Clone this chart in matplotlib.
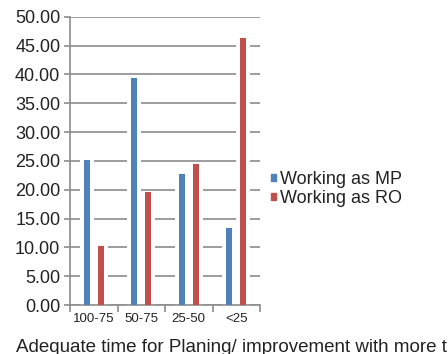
import matplotlib
matplotlib.use("Agg")
import matplotlib.pyplot as plt
from matplotlib.patches import Rectangle
import numpy as np

categories = ["100-75", "50-75", "25-50", "<25"]
mp_values = [25.1, 39.3, 22.8, 13.4]
ro_values = [10.2, 19.6, 24.5, 46.3]
series_labels = ["Working as MP", "Working as RO"]
y_ticks = [0, 5, 10, 15, 20, 25, 30, 35, 40, 45, 50]

blue = "#4F81BD"
red = "#C0504D"
grey = "#8C8C8C"
text_col = "#222222"

plt.rcParams["font.family"] = ["Liberation Sans", "DejaVu Sans"]

fig = plt.figure(figsize=(4.48, 3.54), dpi=100)
ax = fig.add_axes([70 / 448, 1 - 305 / 354, 190 / 448, 288.3 / 354])

x = np.arange(len(categories)) + 0.5
offset = 0.145
bar_w = 0.125
halo_w = 0.30

# white halo behind each bar interrupts the gridlines
for xs, vals in [(x - offset, mp_values), (x + offset, ro_values)]:
    ax.bar(xs, vals, width=halo_w, color="white", zorder=2)
for xs, vals, col in [(x - offset, mp_values, blue), (x + offset, ro_values, red)]:
    ax.bar(xs, vals, width=bar_w, color=col, zorder=3)

ax.set_xlim(0, 4)
ax.set_ylim(0, 50)
ax.set_yticks(y_ticks)
ax.set_yticklabels([f"{v:.2f}" for v in y_ticks], fontsize=13, color=text_col)
ax.yaxis.grid(True, color=grey, linewidth=1.2, zorder=1)
ax.set_axisbelow(True)

ax.set_xticks([0, 1, 2, 3, 4])
ax.set_xticklabels([])
ax.set_xticks(x, minor=True)
ax.set_xticklabels(categories, minor=True, fontsize=9.5, color=text_col)
ax.tick_params(axis="x", which="minor", length=0, pad=6)
ax.tick_params(axis="x", which="major", length=5, width=1.2, color=grey)
ax.tick_params(axis="y", length=4, width=1.2, color=grey, pad=3)

for s in ["top", "right"]:
    ax.spines[s].set_visible(False)
for s in ["left", "bottom"]:
    ax.spines[s].set_color(grey)
    ax.spines[s].set_linewidth(1.2)

handles = [Rectangle((0, 0), 1, 1, color=blue), Rectangle((0, 0), 1, 1, color=red)]
fig.legend(handles, series_labels, loc="center left",
           bbox_to_anchor=(271 / 448, 1 - 189 / 354), frameon=False,
           fontsize=13, handlelength=0.27, handleheight=0.27,
           handletextpad=0.25, labelspacing=0.1, borderpad=0, borderaxespad=0,
           labelcolor=text_col)

fig.text(16 / 448, 1 - 352 / 354, "Adequate time for Planing/ improvement with more time",
         fontsize=13.5, color=text_col, ha="left", va="baseline")

fig.savefig("out.png", dpi=100)
